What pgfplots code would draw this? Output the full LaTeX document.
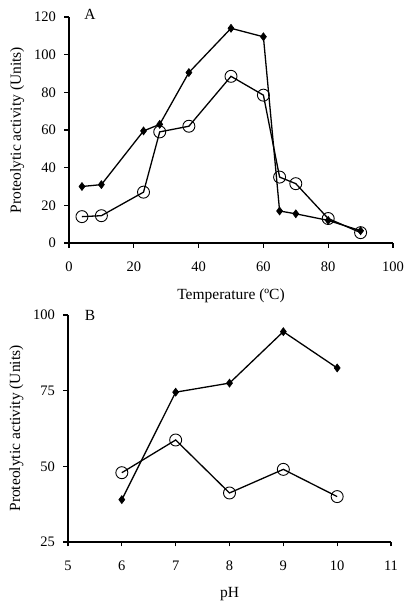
\documentclass[border=0pt]{standalone}
\usepackage{fontspec}
\setmainfont{Liberation Serif}
\usepackage{pgfplots}
\pgfplotsset{compat=1.18}
\begin{document}
\begin{tikzpicture}
\pgfplotsset{
  myax/.style={
    scale only axis,
    axis x line*=bottom, axis y line*=left,
    axis line style={-, line width=1.1pt},
    tick align=outside, major tick length=4.5pt,
    every tick/.style={black, line width=1.1pt},
    tick label style={font=\fontsize{14.5}{16}\selectfont},
    xticklabel style={yshift=-10.5pt},
    yticklabel style={xshift=-5pt},
    label style={font=\fontsize{15.5}{18}\selectfont},
    x label style={at={(axis description cs:0.5,0)}, anchor=center},
    y label style={at={(axis description cs:-0.16,0.5)}, anchor=center, rotate=0},
    /pgf/number format/assume math mode=true,
    clip=false,
  },
  dia/.style={black, line width=1.3pt, mark=diamond*, mark size=4pt, mark options={fill=black, line width=0.6pt}},
  cir/.style={black, line width=1.3pt, mark=o, mark size=6pt, mark options={fill=white, line width=0.9pt}},
}
\begin{axis}[myax, name=A, width=324pt, height=226pt,
  xmin=0, xmax=100, ymin=0, ymax=120,
  xtick={0,20,...,100}, ytick={0,20,...,120},
  xlabel={Temperature (ºC)}, ylabel={Proteolytic activity (Units)},
  xlabel style={yshift=-53pt}]
\node[anchor=center, font=\fontsize{15.5}{18}\selectfont] at (axis cs:6.5,121.6) {A};
\addplot[dia] coordinates {(4,30)(10,31)(23,59.5)(28,63)(37,90.5)(50,114)(60,109.5)(65,17)(70,15.5)(80,12)(90,6.5)};
\addplot[cir] coordinates {(4,14)(10,14.5)(23,27)(28,59)(37,62)(50,88.5)(60,78.5)(65,35)(70,31.5)(80,13)(90,5.5)};
\end{axis}
\begin{axis}[myax, at={(A.south west)}, anchor=north west, xshift=-1pt, yshift=-72pt, width=323pt, height=227pt,
  xmin=5, xmax=11, ymin=25, ymax=100,
  xtick={5,...,11}, ytick={25,50,75,100},
  xlabel={pH}, ylabel={Proteolytic activity (Units)},
  xlabel style={yshift=-52pt}]
\node[anchor=center, font=\fontsize{15.5}{18}\selectfont] at (axis cs:5.41,100) {B};
\addplot[dia] coordinates {(6,39)(7,74.5)(8,77.5)(9,94.5)(10,82.5)};
\addplot[cir] coordinates {(6,47.9)(7,58.7)(8,41.2)(9,49)(10,40)};
\end{axis}
\path ([shift={(-69pt,-365pt)}]A.south west) rectangle ([shift={(339pt,243pt)}]A.south west);
\end{tikzpicture}
\end{document}
